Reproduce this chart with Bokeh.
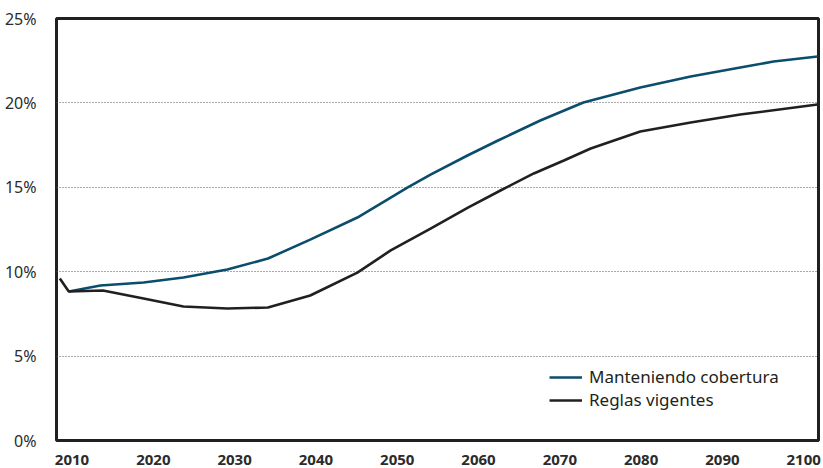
from bokeh.plotting import figure
from bokeh.models import Range1d, FixedTicker, Legend, LegendItem
from bokeh.embed import file_html
from bokeh.resources import INLINE

# Data
years_cob = [2009.6, 2013.5, 2018.8, 2023.7, 2029.1, 2034.1, 2039.3, 2045.1,
             2051.3, 2054.1, 2058.7, 2062.4, 2067.6, 2072.9, 2079.9, 2086.1, 2092.2, 2096.3, 2101.7]
manteniendo = [8.83, 9.18, 9.36, 9.66, 10.13, 10.78, 11.9, 13.21,
               14.99, 15.75, 16.90, 17.77, 18.96, 20.02, 20.91, 21.56, 22.10, 22.45, 22.75]

years_reg = [2008.5, 2009.6, 2013.8, 2018.8, 2023.7, 2029.1, 2034.1, 2039.3, 2045.1,
             2049.2, 2054.1, 2058.7, 2062.7, 2066.8, 2070.5, 2073.8, 2079.9, 2086.1,
             2092.2, 2101.7]
reglas = [9.60, 8.83, 8.89, 8.41, 7.94, 7.82, 7.88, 8.59, 9.95,
          11.26, 12.55, 13.80, 14.81, 15.82, 16.59, 17.30, 18.31, 18.84,
          19.31, 19.91]

x_ticks = [2010, 2020, 2030, 2040, 2050, 2060, 2070, 2080, 2090, 2100]
y_ticks = [0, 5, 10, 15, 20, 25]
y_labels = ["0%", "5%", "10%", "15%", "20%", "25%"]
series_names = ["Manteniendo cobertura", "Reglas vigentes"]

BLUE = "#0b4d6c"
DARK = "#231f20"
FONT = "Noto Sans"

p = figure(width=823, height=468, output_backend="svg", toolbar_location=None,
           x_range=Range1d(2008.09, 2101.82), y_range=Range1d(0, 25),
           min_border_left=56, min_border_right=5, min_border_top=18, min_border_bottom=28)

p.outline_line_color = DARK
p.outline_line_width = 3
p.background_fill_color = "white"
p.border_fill_color = "white"

r1 = p.line(years_cob, manteniendo, line_color=BLUE, line_width=2.6)
r2 = p.line(years_reg, reglas, line_color=DARK, line_width=2.6)

p.xgrid.visible = False
p.ygrid.ticker = FixedTicker(ticks=[5, 10, 15, 20])
p.ygrid.grid_line_color = "#555555"
p.ygrid.grid_line_dash = "1 2"
p.ygrid.grid_line_width = 1

for ax in (p.xaxis[0], p.yaxis[0]):
    ax.axis_line_color = None
    ax.major_tick_line_color = None
    ax.minor_tick_line_color = None
    ax.major_label_text_font = FONT
    ax.major_label_text_color = "#2b2b2b"

p.xaxis[0].ticker = FixedTicker(ticks=x_ticks)
p.xaxis[0].major_label_text_font_style = "bold"
p.xaxis[0].major_label_text_font_size = "15px"
p.xaxis[0].major_label_standoff = 8
p.yaxis[0].ticker = FixedTicker(ticks=y_ticks)
p.yaxis[0].major_label_overrides = {t: l for t, l in zip(y_ticks, y_labels)}
p.yaxis[0].major_label_text_font_size = "16px"
p.yaxis[0].major_label_standoff = 14

legend = Legend(items=[LegendItem(label=series_names[0], renderers=[r1]),
                       LegendItem(label=series_names[1], renderers=[r2])],
                location=(493, 29), border_line_color=None, background_fill_alpha=0,
                label_text_font=FONT, label_text_font_size="17px", label_text_color="#231f20",
                glyph_width=33, label_standoff=7, spacing=0, label_height=22, glyph_height=22,
                padding=8, margin=0)
p.add_layout(legend)

open("out.html", "w").write(file_html(p, INLINE))
